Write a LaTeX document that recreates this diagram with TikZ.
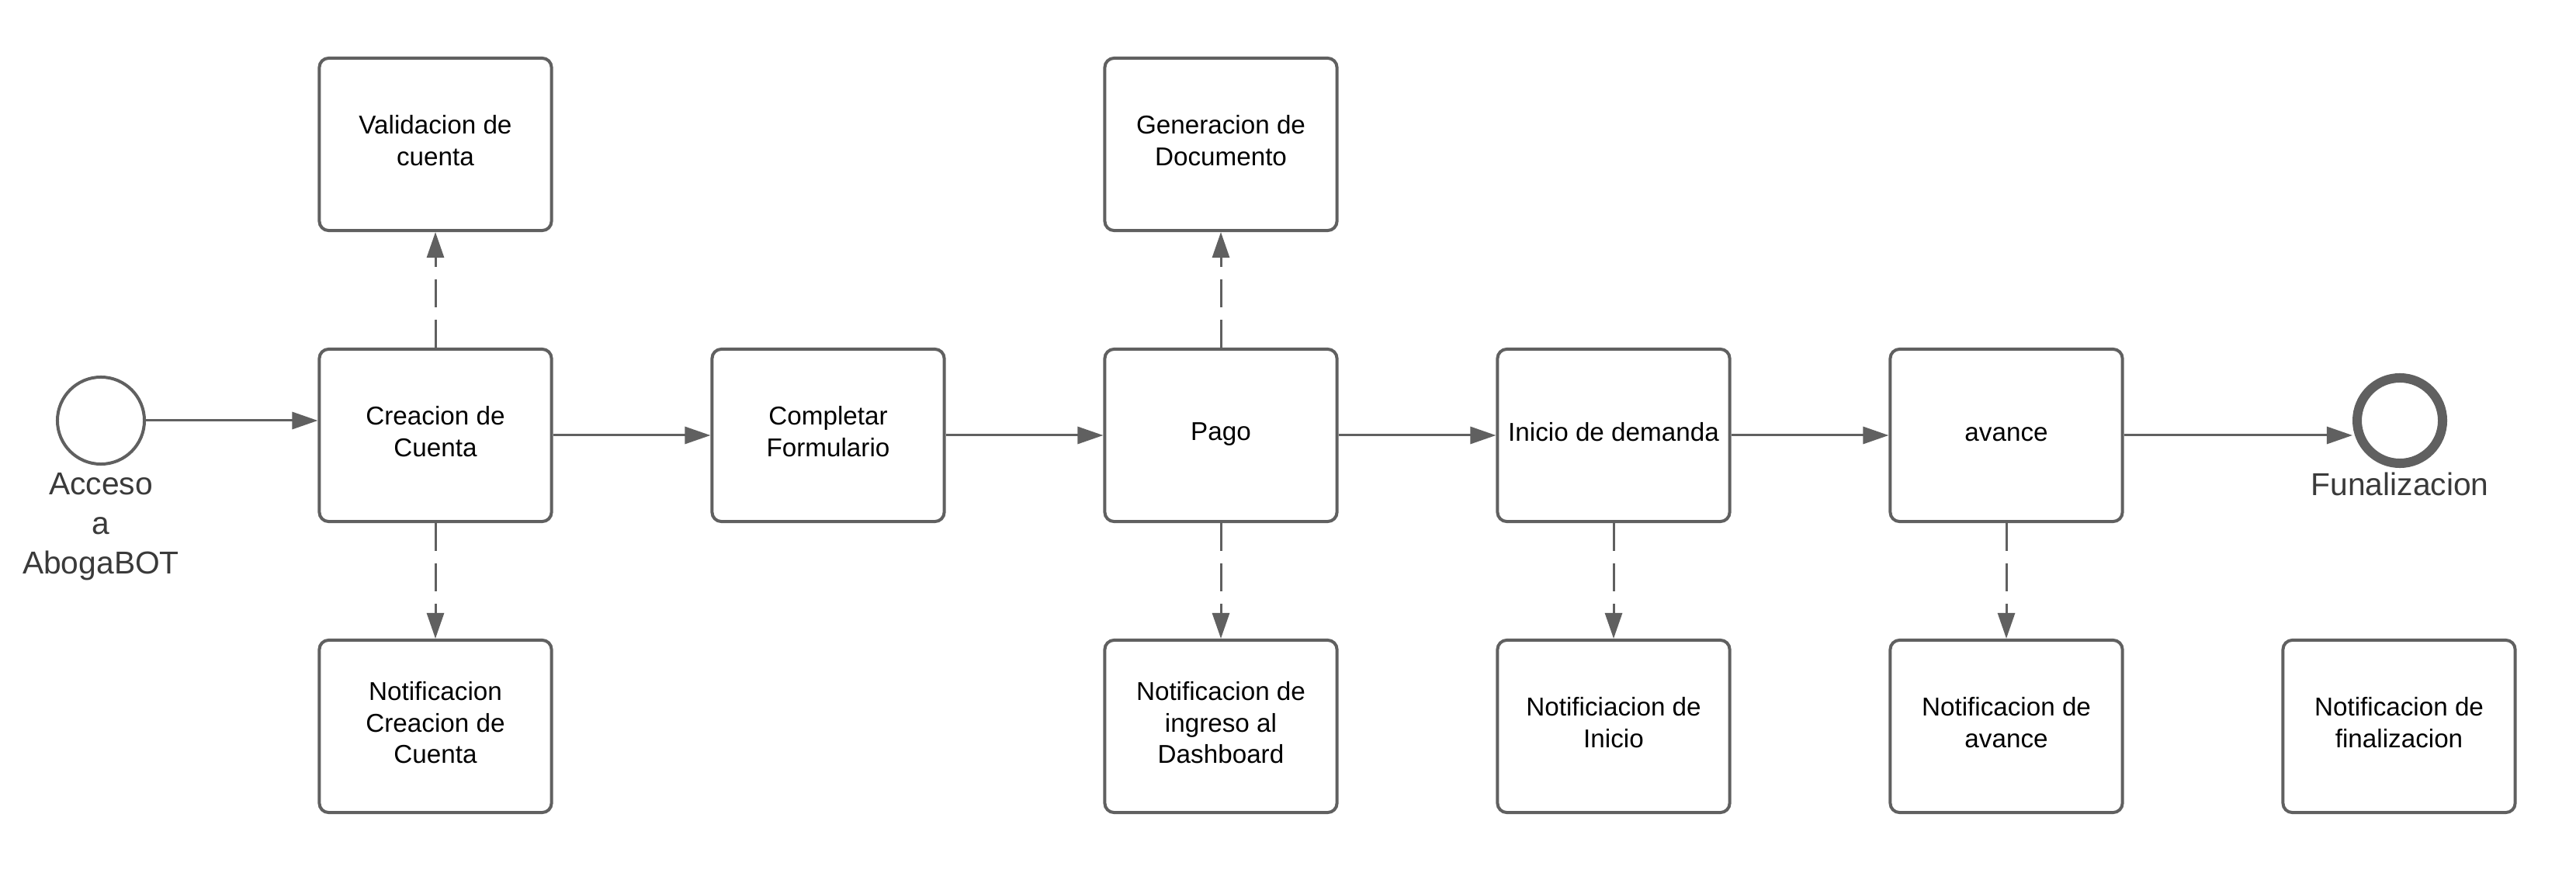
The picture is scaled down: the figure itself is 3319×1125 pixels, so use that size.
\documentclass[tikz,border=0pt]{standalone}
\usepackage{fontspec}
\setmainfont{Liberation Sans}
\usetikzlibrary{arrows.meta}
\definecolor{lc}{RGB}{96,96,96}
\definecolor{lbl}{RGB}{58,58,58}
\begin{document}
\begin{tikzpicture}[x=0.01cm,y=-0.01cm,
  box/.style={draw=lc, line width=0.04cm, rounded corners=0.12cm, fill=white,
    minimum width=2.99cm, minimum height=2.22cm, align=center, inner sep=0pt,
    text depth=0.1cm, font=\fontsize{9.45pt}{11.4pt}\selectfont},
  flow/.style={draw=lc, line width=0.03cm, -{Triangle[length=0.33cm,width=0.22cm]}},
  assoc/.style={flow, dash pattern=on 0.36cm off 0.16cm},
  evlabel/.style={text=lbl, align=center, inner sep=0pt,
    font=\fontsize{11.6pt}{14.4pt}\selectfont}]
\useasboundingbox (0,0) rectangle (3319,1125);

% start event
\node[circle, draw=lc, line width=0.04cm, fill=white, minimum size=1.12cm, inner sep=0pt] (st) at (130,542) {};
\node[evlabel, anchor=north] (stl) at (130,609) {Acceso\\a\\AbogaBOT};

% main row
\node[box] (crea) at (561,561) {Creacion de\\Cuenta};
\node[box] (comp) at (1067,561) {Completar\\Formulario};
\node[box] (pago) at (1573,561) {Pago};
\node[box] (ini)  at (2079,561) {Inicio de demanda};
\node[box, text height=0.242cm] (av) at (2585,561) {avance};

% end event
\node[circle, draw=lc, line width=0.12cm, fill=white, minimum size=1.10cm, inner sep=0pt] (en) at (3092,542) {};
\node[evlabel, anchor=base] (enl) at (3092,638) {Funalizacion};

% top row
\node[box] (val) at (561,186) {Validacion de\\cuenta};
\node[box] (gen) at (1573,186) {Generacion de\\Documento};

% bottom row
\node[box] (ncrea) at (561,936) {Notificacion\\Creacion de\\Cuenta};
\node[box] (npago) at (1573,936) {Notificacion de\\ingreso al\\Dashboard};
\node[box] (nini)  at (2079,936) {Notificiacion de\\Inicio};
\node[box] (nav)   at (2585,936) {Notificacion de\\avance};
\node[box] (nfin)  at (3091,936) {Notificacion de\\finalizacion};

% sequence flows
\draw[flow] (st.east) -- (st.east -| crea.west);
\draw[flow] (crea.east) -- (comp.west);
\draw[flow] (comp.east) -- (pago.west);
\draw[flow] (pago.east) -- (ini.west);
\draw[flow] (ini.east) -- (av.west);
\draw[flow] (av.east) -- (av.east -| en.west);

% associations
\draw[assoc] (crea.north) -- (val.south);
\draw[assoc] (crea.south) -- (ncrea.north);
\draw[assoc] (pago.north) -- (gen.south);
\draw[assoc] (pago.south) -- (npago.north);
\draw[assoc] (ini.south) -- (nini.north);
\draw[assoc] (av.south) -- (nav.north);
\end{tikzpicture}
\end{document}
